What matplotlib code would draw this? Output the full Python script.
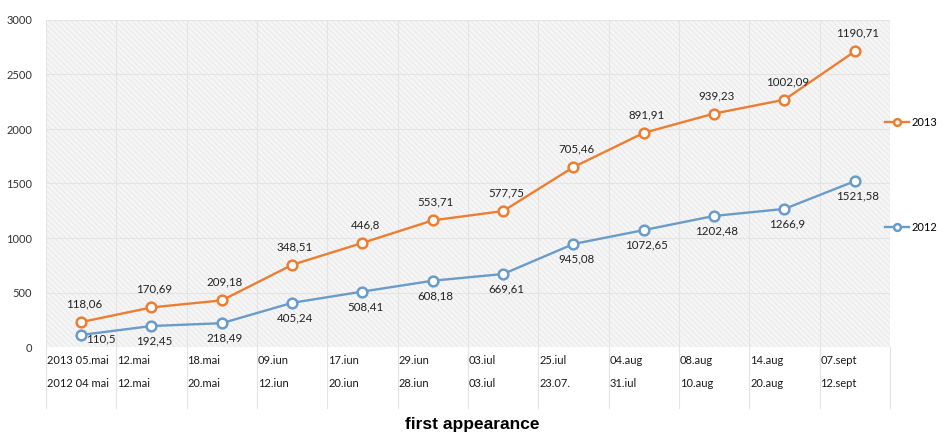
import numpy as np
import matplotlib.pyplot as plt
from matplotlib.patches import Rectangle
import matplotlib.transforms as mtransforms

# data
dates_2013 = ['2013 05.mai', '12.mai', '18.mai', '09.iun', '17.iun', '29.iun',
              '03.iul', '25.iul', '04.aug', '08.aug', '14.aug', '07.sept']
dates_2012 = ['2012 04 mai', '12.mai', '20.mai', '12.iun', '20.iun', '28.iun',
              '03.iul', '23.07.', '31.iul', '10.aug', '20.aug', '12.sept']
vals_2012 = [110.5, 192.45, 218.49, 405.24, 508.41, 608.18,
             669.61, 945.08, 1072.65, 1202.48, 1266.9, 1521.58]
vals_2013 = [118.06, 170.69, 209.18, 348.51, 446.8, 553.71,
             577.75, 705.46, 891.91, 939.23, 1002.09, 1190.71]

plt.rcParams['font.family'] = ['Lato', 'DejaVu Sans']
plt.rcParams['hatch.linewidth'] = 0.4

orange = '#ED7D31'
blue = '#6A9CC9'

fig = plt.figure(figsize=(9.45, 4.4), dpi=100)
W, H = 945, 440
ax = fig.add_axes([46 / W, (H - 347) / H, (890 - 46) / W, (347 - 20) / H])

x = np.arange(len(vals_2012))
y12 = np.array(vals_2012)
y13 = y12 + np.array(vals_2013)  # stacked line

# background texture
ax.add_patch(Rectangle((0, 0), 1, 1, transform=ax.transAxes, facecolor='#f5f5f5',
                       edgecolor='#e1e1e1', hatch='\\\\\\\\\\\\', lw=0, zorder=0))

ax.set_xlim(-0.5, len(x) - 0.5)
ax.set_ylim(0, 3000)
ax.set_yticks(np.arange(0, 3001, 500))
ax.set_xticks(np.arange(-0.5, len(x), 1), minor=False)
ax.set_xticklabels([])
ax.grid(True, color='#e4e4e4', lw=0.8, zorder=1)
ax.tick_params(length=0, labelsize=8, labelcolor='#333333', pad=10)
for s in ax.spines.values():
    s.set_visible(False)

l13, = ax.plot(x, y13, color=orange, lw=1.7, marker='o', ms=7, mfc='white',
               mec=orange, mew=1.8, zorder=3, label='2013')
l12, = ax.plot(x, y12, color=blue, lw=1.7, marker='o', ms=7, mfc='white',
               mec=blue, mew=1.8, zorder=3, label='2012')

fmt = lambda v: ('%g' % v).replace('.', ',')
for i in range(len(x)):
    ax.annotate(fmt(vals_2013[i]), (x[i], y13[i]), xytext=(2, 9), textcoords='offset points',
                ha='center', va='bottom', fontsize=8.3, color='#222222', zorder=4)
    dx = 14 if i == 0 else 2
    dy = 1 if i == 0 else -7
    ax.annotate(fmt(vals_2012[i]), (x[i], y12[i]), xytext=(dx, dy), textcoords='offset points',
                ha='center', va='top', fontsize=8.3, color='#222222', zorder=4)

# data table below the plot
trans = mtransforms.blended_transform_factory(ax.transData, ax.transAxes)
row1 = -(360 - 347) / (347 - 20)
row2 = -(383 - 347) / (347 - 20)
bottom = -(408 - 347) / (347 - 20)
for i in range(len(x)):
    ax.text(i - 0.5 + 0.01, row1, dates_2013[i], transform=trans, ha='left', va='center',
            fontsize=8, color='#1a1a1a')
    ax.text(i - 0.5 + 0.01, row2, dates_2012[i], transform=trans, ha='left', va='center',
            fontsize=8, color='#1a1a1a')
for b in np.arange(-0.5, len(x), 1):
    ax.plot([b, b], [0, bottom], transform=trans, color='#e4e4e4', lw=0.8, clip_on=False)

ax.legend(handles=[l13, l12], loc='upper left', bbox_to_anchor=(0.994, 0.704),
          frameon=False, fontsize=8, labelspacing=8.5, handlelength=2.2,
          handletextpad=0.2, borderaxespad=0, borderpad=0, markerscale=0.7)

fig.text(0.5, 0.018, 'first appearance', ha='center', va='bottom', fontsize=12.5,
         fontweight='bold', family=['Liberation Sans', 'DejaVu Sans'])

fig.savefig('out.png', dpi=100)
